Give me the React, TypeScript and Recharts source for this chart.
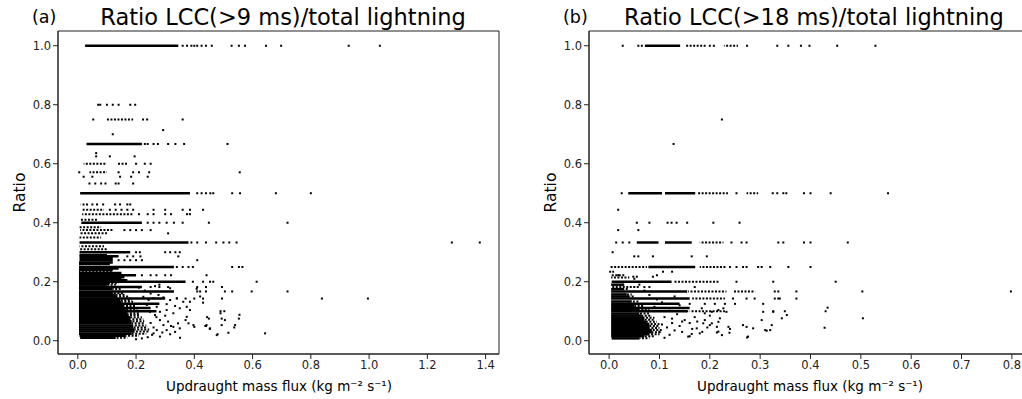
import { ScatterChart, Scatter, XAxis, YAxis, ReferenceLine, ReferenceArea } from 'recharts';

// horizontal stretches where the dots overlap into a line: [ratio, fluxStart, fluxEnd]
const solidRunsA: [number, number, number][] = [
  [1.0, 0.025, 0.345], [0.667, 0.03, 0.22], [0.5, 0.008, 0.385], [0.4, 0.012, 0.22],
  [0.333, 0.006, 0.38], [0.3, 0.006, 0.18], [0.29, 0.006, 0.1], [0.286, 0.006, 0.14],
  [0.28, 0.006, 0.12], [0.273, 0.006, 0.12], [0.265, 0.004, 0.12], [0.26, 0.004, 0.11],
  [0.25, 0.004, 0.33], [0.245, 0.004, 0.14], [0.24, 0.004, 0.12], [0.23, 0.004, 0.15],
  [0.222, 0.004, 0.2], [0.215, 0.004, 0.16], [0.21, 0.004, 0.15], [0.205, 0.004, 0.17],
  [0.2, 0.004, 0.37], [0.182, 0.004, 0.22], [0.167, 0.004, 0.33], [0.143, 0.004, 0.3],
  [0.125, 0.004, 0.28], [0.111, 0.004, 0.25], [0.1, 0.004, 0.27],
  [0.195, 0.004, 0.11], [0.19, 0.004, 0.1], [0.175, 0.004, 0.12], [0.161, 0.004, 0.12],
  [0.156, 0.004, 0.13], [0.15, 0.004, 0.135], [0.137, 0.004, 0.145], [0.132, 0.004, 0.15],
  [0.118, 0.004, 0.16], [0.106, 0.004, 0.165], [0.093, 0.004, 0.17], [0.087, 0.004, 0.175],
  [0.08, 0.004, 0.18], [0.073, 0.004, 0.18], [0.066, 0.004, 0.185], [0.059, 0.004, 0.185],
  [0.052, 0.004, 0.19], [0.045, 0.004, 0.19], [0.038, 0.004, 0.195], [0.031, 0.004, 0.195],
  [0.024, 0.004, 0.185], [0.017, 0.006, 0.165], [0.01, 0.008, 0.13],
];
const dottedRunsA: [number, number, number][] = [
  [0.75, 0.1, 0.19], [0.6, 0.02, 0.1], [0.6, 0.135, 0.17], [0.571, 0.04, 0.1],
  [0.462, 0.01, 0.04], [0.444, 0.015, 0.09], [0.429, 0.015, 0.19], [0.41, 0.006, 0.07],
  [0.385, 0.006, 0.08], [0.375, 0.008, 0.12], [0.364, 0.006, 0.1], [0.35, 0.006, 0.08],
  [0.32, 0.006, 0.09], [0.31, 0.006, 0.1], [0.235, 0.004, 0.12],
  [0.195, 0.11, 0.14], [0.19, 0.1, 0.13], [0.175, 0.12, 0.15], [0.161, 0.12, 0.16],
  [0.156, 0.13, 0.165], [0.15, 0.135, 0.175], [0.137, 0.145, 0.185], [0.132, 0.15, 0.19],
  [0.118, 0.16, 0.2], [0.106, 0.165, 0.205], [0.093, 0.17, 0.21], [0.087, 0.175, 0.215],
  [0.08, 0.18, 0.22], [0.073, 0.18, 0.225], [0.066, 0.185, 0.228], [0.059, 0.185, 0.23],
  [0.052, 0.19, 0.235], [0.045, 0.19, 0.24], [0.038, 0.195, 0.245], [0.031, 0.195, 0.245],
  [0.024, 0.185, 0.235], [0.017, 0.165, 0.21], [0.01, 0.13, 0.17],
];
const dotsA: [number, number][] = [
  [0.36, 1], [0.375, 1], [0.39, 1], [0.4, 1], [0.41, 1], [0.425, 1], [0.44, 1], [0.46, 1],
  [0.528, 1], [0.553, 1], [0.574, 1], [0.646, 1], [0.698, 1], [0.93, 1], [1.037, 1],
  [0.07, 0.8], [0.077, 0.8], [0.1, 0.8], [0.12, 0.8], [0.14, 0.8], [0.18, 0.8], [0.197, 0.8],
  [0.053, 0.75], [0.224, 0.75], [0.238, 0.75], [0.36, 0.75], [0.293, 0.714], [0.12, 0.7],
  [0.23, 0.667], [0.24, 0.667], [0.26, 0.667], [0.275, 0.667], [0.31, 0.667], [0.335, 0.667],
  [0.365, 0.667], [0.514, 0.667], [0.063, 0.636], [0.063, 0.625], [0.11, 0.625], [0.195, 0.625],
  [0.2, 0.6], [0.23, 0.6], [0.25, 0.6],
  [0.005, 0.571], [0.14, 0.571], [0.19, 0.571], [0.21, 0.571], [0.245, 0.571], [0.556, 0.571],
  [0.02, 0.556], [0.05, 0.556], [0.145, 0.556], [0.183, 0.556], [0.24, 0.556],
  [0.04, 0.533], [0.06, 0.533], [0.08, 0.533], [0.095, 0.533], [0.13, 0.533], [0.14, 0.533], [0.19, 0.533],
  [0.41, 0.5], [0.425, 0.5], [0.44, 0.5], [0.455, 0.5], [0.465, 0.5], [0.53, 0.5], [0.557, 0.5],
  [0.68, 0.5], [0.8, 0.5],
  [0.05, 0.462], [0.066, 0.462], [0.087, 0.462], [0.128, 0.462], [0.145, 0.462], [0.17, 0.462], [0.18, 0.462],
  [0.11, 0.444], [0.13, 0.444], [0.15, 0.444], [0.17, 0.444], [0.19, 0.444], [0.26, 0.444],
  [0.3, 0.444], [0.36, 0.444], [0.385, 0.444], [0.43, 0.444],
  [0.21, 0.429], [0.24, 0.429], [0.26, 0.429], [0.3, 0.429], [0.32, 0.429], [0.375, 0.429], [0.385, 0.429],
  [0.24, 0.4], [0.26, 0.4], [0.28, 0.4], [0.305, 0.4], [0.33, 0.4], [0.36, 0.4], [0.45, 0.4], [0.72, 0.4],
  [0.16, 0.375], [0.18, 0.375], [0.2, 0.375], [0.22, 0.375], [0.25, 0.375], [0.31, 0.364],
  [0.39, 0.333], [0.41, 0.333], [0.44, 0.333], [0.475, 0.333], [0.5, 0.333], [0.52, 0.333],
  [0.545, 0.333], [1.284, 0.333], [1.38, 0.333],
  [0.2, 0.3], [0.213, 0.3], [0.3, 0.3], [0.317, 0.3], [0.335, 0.3], [0.35, 0.3],
  [0.17, 0.286], [0.19, 0.286], [0.215, 0.286], [0.345, 0.286],
  [0.14, 0.273], [0.16, 0.273], [0.18, 0.273], [0.2, 0.273], [0.22, 0.273], [0.41, 0.273],
  [0.34, 0.25], [0.36, 0.25], [0.38, 0.25], [0.395, 0.25], [0.53, 0.25], [0.553, 0.25], [0.565, 0.25],
  [0.22, 0.222], [0.25, 0.222], [0.27, 0.222], [0.3, 0.222], [0.32, 0.222], [0.442, 0.222],
  [0.395, 0.2], [0.43, 0.2], [0.454, 0.2], [0.465, 0.2], [0.614, 0.2],
  [0.25, 0.182], [0.28, 0.182], [0.31, 0.182], [0.41, 0.182], [0.44, 0.182], [0.495, 0.182],
  [0.41, 0.167], [0.42, 0.167], [0.44, 0.167], [0.505, 0.167], [0.53, 0.167], [0.597, 0.167], [0.72, 0.167],
  [0.34, 0.143], [0.37, 0.143], [0.4, 0.143], [0.43, 0.143], [0.495, 0.143], [0.838, 0.143], [0.996, 0.143],
  [0.43, 0.129], [0.49, 0.1], [0.503, 0.1],
  [0.265, 0.185], [0.28, 0.19], [0.317, 0.178], [0.408, 0.176], [0.42, 0.15], [0.385, 0.132],
  [0.49, 0.093], [0.555, 0.088], [0.44, 0.05], [0.4, 0.047], [0.374, 0.081], [0.37, 0.07],
  [0.477, 0.019], [0.54, 0.053], [0.344, 0.059], [0.35, 0.042], [0.328, 0.047], [0.334, 0.03],
  [0.305, 0.036], [0.317, 0.022], [0.282, 0.07], [0.294, 0.053], [0.271, 0.036], [0.26, 0.025],
  [0.282, 0.014], [0.248, 0.098], [0.265, 0.087], [0.282, 0.098], [0.305, 0.104], [0.328, 0.093],
  [0.35, 0.11], [0.385, 0.104], [0.374, 0.115], [0.225, 0.149], [0.243, 0.138], [0.26, 0.144],
  [0.277, 0.155], [0.294, 0.147], [0.317, 0.138], [0.34, 0.144], [0.362, 0.132], [0.237, 0.121],
  [0.271, 0.115], [0.305, 0.124], [0.334, 0.118], [0.351, 0.01], [0.48, 0.022], [0.517, 0.027],
  [0.643, 0.025], [0.38, 0.059], [0.397, 0.053], [0.442, 0.053], [0.454, 0.042], [0.494, 0.053],
  [0.444, 0.08], [0.45, 0.075], [0.494, 0.075], [0.505, 0.07], [0.553, 0.075], [0.438, 0.05],
  [0.453, 0.04], [0.537, 0.045], [0.25, 0.06], [0.26, 0.045], [0.27, 0.08], [0.255, 0.02],
  [0.24, 0.012], [0.29, 0.028], [0.31, 0.065], [0.22, 0.008], [0.2, 0.005], [0.3, 0.085],
  [0.32, 0.05], [0.23, 0.17], [0.25, 0.16], [0.21, 0.18],
];

const solidRunsB: [number, number, number][] = [
  [1.0, 0.071, 0.141], [0.5, 0.038, 0.105], [0.5, 0.111, 0.171], [0.333, 0.055, 0.098],
  [0.333, 0.111, 0.164], [0.25, 0.078, 0.171], [0.2, 0.005, 0.124], [0.167, 0.004, 0.155],
  [0.143, 0.004, 0.16], [0.125, 0.004, 0.14], [0.111, 0.004, 0.16], [0.1, 0.004, 0.155],
  [0.19, 0.004, 0.03], [0.175, 0.004, 0.03], [0.157, 0.004, 0.035], [0.15, 0.004, 0.04],
  [0.133, 0.004, 0.045], [0.118, 0.004, 0.05], [0.106, 0.004, 0.06], [0.092, 0.004, 0.06],
  [0.085, 0.004, 0.065], [0.078, 0.004, 0.07], [0.071, 0.004, 0.07], [0.064, 0.004, 0.075],
  [0.057, 0.004, 0.08], [0.05, 0.004, 0.08], [0.043, 0.004, 0.08], [0.036, 0.004, 0.085],
  [0.029, 0.004, 0.085], [0.022, 0.004, 0.08], [0.015, 0.004, 0.07], [0.008, 0.005, 0.06],
];
const dottedRunsB: [number, number, number][] = [
  [1.0, 0.153, 0.192], [1.0, 0.228, 0.256], [0.5, 0.175, 0.236], [0.5, 0.273, 0.296],
  [0.333, 0.18, 0.227], [0.25, 0.002, 0.075], [0.25, 0.18, 0.233], [0.2, 0.127, 0.22],
  [0.182, 0.006, 0.06], [0.167, 0.157, 0.233], [0.167, 0.246, 0.29], [0.143, 0.165, 0.23],
  [0.1, 0.16, 0.23], [0.222, 0.004, 0.03], [0.214, 0.004, 0.04],
  [0.175, 0.03, 0.04], [0.157, 0.035, 0.045], [0.15, 0.04, 0.05], [0.133, 0.045, 0.06],
  [0.118, 0.05, 0.07], [0.106, 0.06, 0.08], [0.092, 0.06, 0.08], [0.085, 0.065, 0.085],
  [0.078, 0.07, 0.09], [0.071, 0.07, 0.09], [0.064, 0.075, 0.095], [0.057, 0.08, 0.1],
  [0.05, 0.08, 0.1], [0.043, 0.08, 0.1], [0.036, 0.085, 0.105], [0.029, 0.085, 0.105],
  [0.022, 0.08, 0.1], [0.015, 0.07, 0.09], [0.008, 0.06, 0.08],
];
const dotsB: [number, number][] = [
  [0.027, 1], [0.058, 1], [0.065, 1], [0.2, 1], [0.208, 1], [0.274, 1], [0.334, 1], [0.356, 1],
  [0.381, 1], [0.398, 1], [0.453, 1], [0.529, 1], [0.224, 0.75], [0.128, 0.667],
  [0.025, 0.5], [0.253, 0.5], [0.325, 0.5], [0.334, 0.5], [0.346, 0.5], [0.352, 0.5], [0.387, 0.5],
  [0.4, 0.5], [0.44, 0.5], [0.554, 0.5], [0.018, 0.444],
  [0.055, 0.4], [0.08, 0.4], [0.116, 0.4], [0.124, 0.4], [0.134, 0.4], [0.155, 0.4], [0.207, 0.4], [0.259, 0.4],
  [0.018, 0.375], [0.058, 0.375],
  [0.014, 0.333], [0.027, 0.333], [0.04, 0.333], [0.243, 0.333], [0.263, 0.333], [0.273, 0.333],
  [0.336, 0.333], [0.346, 0.333], [0.387, 0.333], [0.4, 0.333], [0.474, 0.333], [0.007, 0.3],
  [0.05, 0.286], [0.058, 0.286], [0.087, 0.286], [0.164, 0.286], [0.194, 0.286],
  [0.24, 0.25], [0.253, 0.25], [0.266, 0.25], [0.273, 0.25], [0.296, 0.25], [0.303, 0.25],
  [0.32, 0.25], [0.356, 0.25], [0.4, 0.25],
  [0.002, 0.234], [0.008, 0.234], [0.107, 0.234], [0.125, 0.234], [0.018, 0.222], [0.095, 0.222],
  [0.048, 0.217], [0.055, 0.217], [0.087, 0.217], [0.253, 0.2], [0.326, 0.2], [0.45, 0.2],
  [0.07, 0.182], [0.08, 0.182], [0.17, 0.182],
  [0.329, 0.167], [0.336, 0.167], [0.372, 0.167], [0.503, 0.167], [0.798, 0.167],
  [0.246, 0.143], [0.273, 0.143], [0.289, 0.143], [0.329, 0.143], [0.336, 0.143], [0.339, 0.143], [0.372, 0.143],
  [0.16, 0.125], [0.19, 0.125], [0.21, 0.125], [0.23, 0.125], [0.25, 0.125], [0.306, 0.125],
  [0.434, 0.112], [0.326, 0.1], [0.349, 0.1], [0.43, 0.1], [0.504, 0.076], [0.428, 0.044],
  [0.184, 0.11], [0.19, 0.093], [0.204, 0.098], [0.217, 0.104], [0.227, 0.11], [0.233, 0.098],
  [0.22, 0.076], [0.204, 0.059], [0.214, 0.047], [0.187, 0.059], [0.174, 0.042], [0.18, 0.025],
  [0.237, 0.047], [0.217, 0.031], [0.224, 0.019], [0.266, 0.053], [0.273, 0.047], [0.286, 0.042],
  [0.276, 0.014], [0.306, 0.098], [0.303, 0.07], [0.31, 0.036], [0.32, 0.036], [0.323, 0.053],
  [0.326, 0.098], [0.343, 0.076], [0.353, 0.087], [0.214, 0.028], [0.239, 0.027], [0.274, 0.011],
  [0.313, 0.034], [0.164, 0.023], [0.157, 0.014], [0.2, 0.053], [0.217, 0.064], [0.24, 0.04],
  [0.12, 0.02], [0.13, 0.035], [0.14, 0.05], [0.125, 0.06], [0.15, 0.07], [0.11, 0.08],
  [0.135, 0.09], [0.16, 0.06], [0.145, 0.03], [0.17, 0.08], [0.115, 0.045], [0.155, 0.1],
  [0.165, 0.04], [0.175, 0.065], [0.12, 0.11], [0.14, 0.12], [0.105, 0.13], [0.13, 0.15],
  [0.11, 0.01], [0.1, 0.03], [0.105, 0.055], [0.19, 0.07], [0.2, 0.085], [0.16, 0.015],
  [0.185, 0.03], [0.195, 0.045], [0.125, 0.075], [0.145, 0.065], [0.09, 0.115], [0.095, 0.14],
  [0.08, 0.155], [0.07, 0.17], [0.06, 0.19], [0.05, 0.21],
];

const xTicksA = [0, 0.2, 0.4, 0.6, 0.8, 1.0, 1.2, 1.4];
const xTicksB = [0, 0.1, 0.2, 0.3, 0.4, 0.5, 0.6, 0.7, 0.8];
const yTicks = [0, 0.2, 0.4, 0.6, 0.8, 1.0];
const yDomain: [number, number] = [-0.045, 1.05];

const FONT = '"DejaVu Sans", sans-serif';
const INK = '#222';

const Dot = (p: any) => <rect x={p.cx - 1} y={p.cy - 1} width={2} height={2} fill="#000" />;

interface PanelProps {
  left: number;
  letter: string;
  title: string;
  xDomain: [number, number];
  xTicks: number[];
  solid: [number, number, number][];
  dotted: [number, number, number][];
  dots: [number, number][];
}

function Panel({ left, letter, title, xDomain, xTicks, solid, dotted, dots }: PanelProps) {
  const data = dots.map(([x, y]) => ({ x, y }));
  return (
    <div style={{ position: 'absolute', left, top: 0, width: 510, height: 399 }}>
      <ScatterChart width={510} height={399} margin={{ top: 31, right: 11, bottom: 0, left: 0 }}>
        <XAxis
          type="number"
          dataKey="x"
          domain={xDomain}
          ticks={xTicks}
          allowDataOverflow
          height={45}
          tickSize={5}
          tickFormatter={(v: number) => v.toFixed(1)}
          tick={{ fontSize: 11.5, fill: INK, fontFamily: FONT }}
          stroke={INK}
        />
        <YAxis
          type="number"
          dataKey="y"
          domain={yDomain}
          ticks={yTicks}
          allowDataOverflow
          width={58}
          tickSize={5}
          tickFormatter={(v: number) => v.toFixed(1)}
          tick={{ fontSize: 11.5, fill: INK, fontFamily: FONT }}
          stroke={INK}
        />
        <ReferenceArea
          x1={xDomain[0]}
          x2={xDomain[1]}
          y1={yDomain[0]}
          y2={yDomain[1]}
          fill="none"
          stroke={INK}
          strokeWidth={1}
          ifOverflow="visible"
        />
        {solid.map(([r, a, b], i) => (
          <ReferenceLine
            key={`s${i}`}
            segment={[{ x: a, y: r }, { x: b, y: r }]}
            stroke="#000"
            strokeWidth={2.5}
          />
        ))}
        {dotted.map(([r, a, b], i) => (
          <ReferenceLine
            key={`d${i}`}
            segment={[{ x: a, y: r }, { x: b, y: r }]}
            stroke="#000"
            strokeWidth={2}
            strokeDasharray="2 1.5"
            strokeDashoffset={(i * 1.3) % 3.5}
          />
        ))}
        <Scatter data={data} shape={Dot} isAnimationActive={false} />
      </ScatterChart>
      <svg
        width={510}
        height={399}
        style={{ position: 'absolute', left: 0, top: 0, pointerEvents: 'none', fontFamily: FONT }}
      >
        <text x={32} y={23} fontSize={17.5} fill="#000">{letter}</text>
        <text x={283} y={25} fontSize={22.5} fill="#000" textAnchor="middle">{title}</text>
        <text x={25} y={192.5} fontSize={15.5} fill="#000" textAnchor="middle" transform="rotate(-90 25 192.5)">
          Ratio
        </text>
        <text x={279} y={390.5} fontSize={13.5} fill="#000" textAnchor="middle">
          Updraught mass flux (kg m⁻² s⁻¹)
        </text>
      </svg>
    </div>
  );
}

export default function App() {
  return (
    <div
      style={{
        position: 'absolute',
        left: 0,
        top: 0,
        width: 1022,
        height: 399,
        overflow: 'hidden',
        background: '#fff',
        fontFamily: FONT,
      }}
    >
      <Panel
        left={0}
        letter="(a)"
        title="Ratio LCC(>9 ms)/total lightning"
        xDomain={[-0.068, 1.446]}
        xTicks={xTicksA}
        solid={solidRunsA}
        dotted={dottedRunsA}
        dots={dotsA}
      />
      <Panel
        left={531}
        letter="(b)"
        title="Ratio LCC(>18 ms)/total lightning"
        xDomain={[-0.04, 0.836]}
        xTicks={xTicksB}
        solid={solidRunsB}
        dotted={dottedRunsB}
        dots={dotsB}
      />
    </div>
  );
}
